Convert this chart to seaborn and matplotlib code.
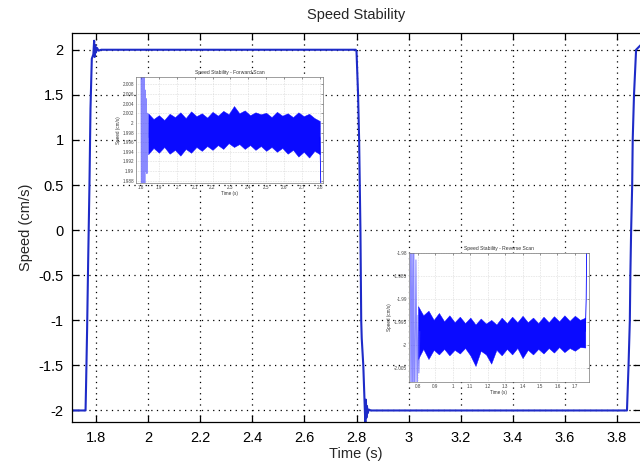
import numpy as np
import seaborn as sns
import matplotlib
matplotlib.use("Agg")
import matplotlib.pyplot as plt
from matplotlib.ticker import FuncFormatter

# main trace: speed vs time (square wave)
time_main = [1.708, 1.760, 1.762, 1.766, 1.770, 1.775, 1.779, 1.784, 1.790, 1.793, 1.795, 1.797,
             1.800, 1.804, 1.810, 1.820, 2.797, 2.800, 2.806, 2.810, 2.815, 2.818, 2.820, 2.826,
             2.832, 2.834, 2.836, 2.838, 2.840, 2.843, 2.847, 2.855, 3.838, 3.844, 3.849, 3.851,
             3.854, 3.858, 3.860, 3.865, 3.873, 3.890]
speed_main = [-2.0, -2.0, -1.72, -1.1, -0.35, 0.5, 1.35, 1.9, 1.95, 2.1, 1.92, 2.05,
              1.97, 2.02, 1.99, 2.0, 2.0, 1.98, 1.5, 1.0, 0.0, -1.0, -1.2, -1.5,
              -2.0, -2.15, -1.88, -2.08, -1.95, -2.03, -1.99, -2.0, -2.0, -1.5, -1.0, -0.5,
              0.0, 0.5, 1.0, 1.5, 2.0, 2.05]

# forward scan inset: envelope of the noisy signal
fwd_t = [1.84, 1.87, 1.90, 1.93, 1.96, 1.99, 2.02, 2.05, 2.08, 2.11, 2.14, 2.17, 2.20, 2.23, 2.26, 2.29,
         2.32, 2.35, 2.38, 2.41, 2.44, 2.47, 2.50, 2.53, 2.56, 2.59, 2.62, 2.65, 2.68, 2.71, 2.74, 2.77, 2.80]
fwd_hi = [2.0020, 2.0008, 2.0016, 2.0006, 2.0019, 2.0012, 2.0022, 2.0010, 2.0024, 2.0014, 2.0020,
          2.0011, 2.0023, 2.0015, 2.0025, 2.0018, 2.0035, 2.0020, 2.0026, 2.0016, 2.0022, 2.0018,
          2.0021, 2.0012, 2.0023, 2.0015, 2.0020, 2.0012, 2.0022, 2.0014, 2.0019, 2.0010, 2.0004]
fwd_lo = [1.9935, 1.9948, 1.9938, 1.9950, 1.9936, 1.9944, 1.9932, 1.9946, 1.9938, 1.9950, 1.9942,
          1.9952, 1.9944, 1.9954, 1.9946, 1.9958, 1.9950, 1.9956, 1.9946, 1.9954, 1.9944, 1.9952,
          1.9942, 1.9950, 1.9940, 1.9948, 1.9936, 1.9944, 1.9930, 1.9940, 1.9928, 1.9942, 1.9935]
fwd_start_t = [1.800, 1.803, 1.806, 1.809, 1.812, 1.815, 1.818, 1.821, 1.824, 1.827, 1.830, 1.833, 1.836, 1.840]
fwd_start_v = [2.02, 1.97, 2.03, 1.96, 2.02, 1.975, 2.015, 1.98, 2.0068, 1.990, 2.005, 1.9895, 2.002, 1.997]
fwd_end_t = [2.800, 2.803, 2.806]
fwd_end_v = [1.997, 1.992, 1.985]

# reverse scan inset
rev_t = [0.80, 0.83, 0.86, 0.89, 0.92, 0.95, 0.98, 1.01, 1.04, 1.07, 1.10, 1.13, 1.16, 1.19, 1.22, 1.25,
         1.28, 1.31, 1.34, 1.37, 1.40, 1.43, 1.46, 1.49, 1.52, 1.55, 1.58, 1.61, 1.64, 1.67, 1.70, 1.73, 1.76]
rev_hi = [-1.9915, -1.9935, -1.9925, -1.9945, -1.9930, -1.9948, -1.9935, -1.9950, -1.9938, -1.9952,
          -1.9940, -1.9955, -1.9942, -1.9953, -1.9945, -1.9955, -1.9940, -1.9952, -1.9938, -1.9950,
          -1.9936, -1.9950, -1.9940, -1.9952, -1.9938, -1.9950, -1.9937, -1.9948, -1.9935, -1.9947,
          -1.9936, -1.9945, -1.9940]
rev_lo = [-2.0030, -2.0008, -2.0030, -2.0010, -2.0020, -2.0008, -2.0022, -2.0010, -2.0018, -2.0006,
          -2.0022, -2.0045, -2.0012, -2.0020, -2.0040, -2.0010, -2.0022, -2.0008, -2.0020, -2.0006,
          -2.0028, -2.0010, -2.0020, -2.0008, -2.0018, -2.0006, -2.0016, -2.0004, -2.0015, -2.0006,
          -2.0012, -2.0004, -2.0005]
rev_start_t = [0.755, 0.760, 0.765, 0.770, 0.775, 0.780, 0.788, 0.795, 0.800, 0.805, 0.810]
rev_start_v = [-1.97, -2.02, -1.97, -2.02, -1.97, -2.02, -1.9815, -2.012, -1.9935, -2.006, -1.997]
rev_end_t = [1.760, 1.765, 1.770]
rev_end_v = [-1.997, -1.990, -1.970]

sns.set_theme(style="white")
plt.rcParams['font.family'] = ['Liberation Sans', 'DejaVu Sans']

fmt = FuncFormatter(lambda v, p: "%g" % round(v, 4))

fig = plt.figure(figsize=(6.4, 4.66), dpi=100)
ax = fig.add_axes([0.1125, 0.094, 0.8875, 0.836])
sns.lineplot(x=time_main, y=speed_main, sort=False, estimator=None, color='#1e2bc8', lw=1.5, ax=ax)
ax.set_xlim(1.708, 3.888)
ax.set_ylim(-2.13, 2.19)
ax.set_xticks([1.8, 2.0, 2.2, 2.4, 2.6, 2.8, 3.0, 3.2, 3.4, 3.6, 3.8])
ax.set_yticks([-2, -1.5, -1, -0.5, 0, 0.5, 1, 1.5, 2])
ax.xaxis.set_major_formatter(fmt)
ax.yaxis.set_major_formatter(fmt)
ax.grid(True, color='black', linestyle=(0, (1, 3.5)), lw=0.9)
ax.tick_params(direction='in', length=5, width=0.9, labelsize=10.5, colors='black',
               top=True, right=True, bottom=True, left=True, pad=6)
for s in ax.spines.values():
    s.set_color('black')
    s.set_linewidth(0.9)
ax.spines['right'].set_visible(False)
ax.set_title("Speed Stability", fontsize=10.5, pad=10)
ax.set_xlabel("Time (s)", fontsize=10.5, labelpad=2)
ax.set_ylabel("Speed (cm/s)", fontsize=10.5, labelpad=4)


def style_inset(a, title):
    a.set_facecolor('white')
    a.grid(True, color='#bbbbbb', linestyle=(0, (1, 2)), lw=0.4)
    a.tick_params(direction='in', length=1.5, width=0.4, labelsize=3.3, colors='#444444', pad=1.5,
                  top=True, right=True)
    for s in a.spines.values():
        s.set_color('#777777')
        s.set_linewidth(0.5)
    a.set_title(title, fontsize=3.6, pad=2, color='#333333')
    a.set_xlabel("Time (s)", fontsize=3.3, labelpad=0.5, color='#333333')
    a.set_ylabel("Speed (cm/s)", fontsize=3.3, labelpad=1, color='#333333')
    a.xaxis.set_major_formatter(fmt)
    a.yaxis.set_major_formatter(fmt)


# forward scan inset
ax1 = fig.add_axes([0.2125, 0.607, 0.292, 0.2275])
ax1.fill_between(fwd_t, fwd_lo, fwd_hi, color='#0a0aff', lw=0.3)
sns.lineplot(x=fwd_start_t, y=fwd_start_v, sort=False, estimator=None, color='#3b3bff', lw=0.8, alpha=0.6, ax=ax1)
sns.lineplot(x=fwd_end_t, y=fwd_end_v, sort=False, estimator=None, color='#0000ff', lw=0.6, ax=ax1)
ax1.set_xlim(1.772, 2.817)
ax1.set_ylim(1.9875, 2.0095)
ax1.set_xticks([1.8, 1.9, 2.0, 2.1, 2.2, 2.3, 2.4, 2.5, 2.6, 2.7, 2.8])
ax1.set_yticks([1.988, 1.990, 1.992, 1.994, 1.996, 1.998, 2.000, 2.002, 2.004, 2.006, 2.008])
style_inset(ax1, "Speed Stability - Forward Scan")

# reverse scan inset
ax2 = fig.add_axes([0.639, 0.180, 0.281, 0.277])
ax2.fill_between(rev_t, rev_lo, rev_hi, color='#0a0aff', lw=0.3)
sns.lineplot(x=rev_start_t, y=rev_start_v, sort=False, estimator=None, color='#3b3bff', lw=0.8, alpha=0.6, ax=ax2)
sns.lineplot(x=rev_end_t, y=rev_end_v, sort=False, estimator=None, color='#0000ff', lw=0.6, ax=ax2)
ax2.set_xlim(0.748, 1.78)
ax2.set_ylim(-2.008, -1.98)
ax2.set_xticks([0.8, 0.9, 1.0, 1.1, 1.2, 1.3, 1.4, 1.5, 1.6, 1.7])
ax2.set_yticks([-2.005, -2.0, -1.995, -1.99, -1.985, -1.98])
style_inset(ax2, "Speed Stability - Reverse Scan")

fig.savefig("out.png", dpi=100, facecolor='white')
